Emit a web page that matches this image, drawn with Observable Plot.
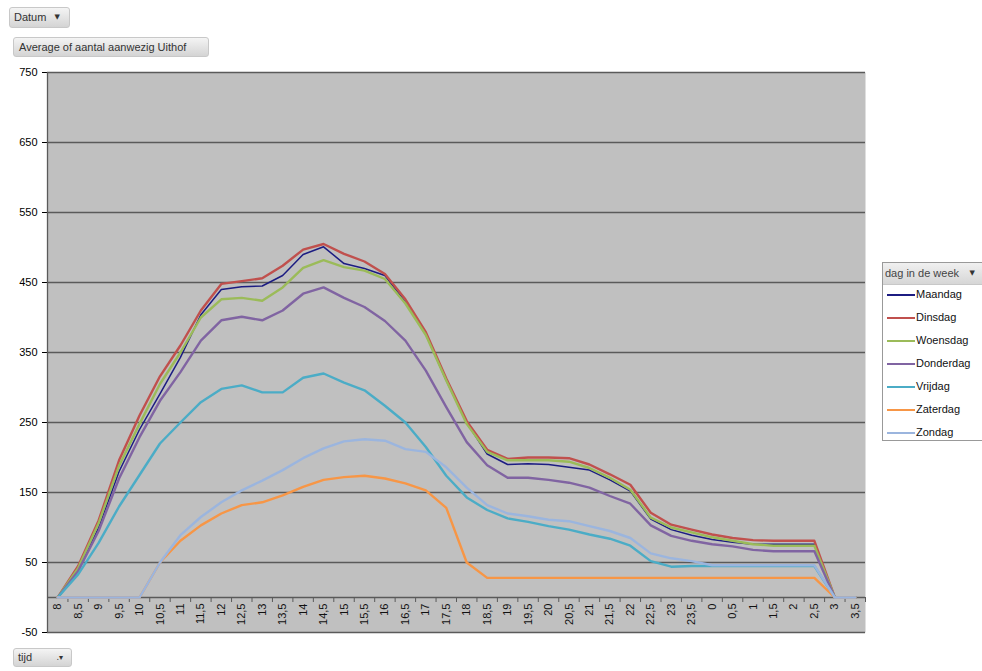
<!DOCTYPE html>
<html>
<head>
<meta charset="utf-8">
<script src="https://cdn.jsdelivr.net/npm/d3@7"></script>
<script src="https://cdn.jsdelivr.net/npm/@observablehq/plot@0.6"></script>
<style>
  body { margin: 0; background: #fff; font-family: "Liberation Sans", Arial, sans-serif; }
  #wrap { position: relative; width: 982px; height: 671px; overflow: hidden; }
  #chart { position: absolute; left: 0; top: 0; }
  .btn { position: absolute; height: 20px; border: 1px solid #c8c8c8; border-radius: 3px;
         background: linear-gradient(#f4f4f4, #d4d4d4); font-size: 11px; color: #333;
         line-height: 18px; padding: 0 4px; box-sizing: border-box; white-space: nowrap; }
  .arr { position: absolute; right: 7px; top: 0; font-size: 7px; font-family: "DejaVu Sans", sans-serif; color: #333; }
  #legend { position: absolute; left: 882px; top: 262px; width: 110px; height: 179px;
            border: 1px solid #999; background: #fff; box-sizing: border-box; }
  #legend .hd { position: relative; height: 21px; background: linear-gradient(#f0f0f0, #d6d6d6); border-bottom: 1px solid #c8c8c8;
                font-size: 11px; color: #444; line-height: 20px; padding-left: 2px; white-space: nowrap; }
  #legend .it { position: absolute; left: 4px; height: 16px; font-size: 11px; color: #111; line-height: 16px; white-space: nowrap; }
  #legend .sw { display: inline-block; width: 28px; height: 2px; vertical-align: middle; margin-right: 1px; }
</style>
</head>
<body>
<div id="wrap">
  <div id="chart"></div>
  <div class="btn" style="left:9px;top:7px;width:61px;height:21px;line-height:19px;">Datum<span class="arr" style="right:9px">▼</span></div>
  <div class="btn" style="left:13px;top:37px;width:196px;padding-left:5px;">Average of aantal aanwezig Uithof</div>
  <div class="btn" style="left:13px;top:648px;width:59px;height:19px;line-height:17px;">tijd<span class="arr" style="right:8px;font-size:8px">.▾</span></div>
  <div id="legend"><div class="hd">dag in de week<span class="arr" style="right:16px">▼</span></div></div>
</div>
<script>
// Categories (x axis labels)
const tijd = ["8","8,5","9","9,5","10","10,5","11","11,5","12","12,5","13","13,5","14","14,5","15","15,5",
  "16","16,5","17","17,5","18","18,5","19","19,5","20","20,5","21","21,5","22","22,5","23","23,5",
  "0","0,5","1","1,5","2","2,5","3","3,5"];
const yTicks = [-50, 50, 150, 250, 350, 450, 550, 650, 750];
const days = ["Maandag","Dinsdag","Woensdag","Donderdag","Vrijdag","Zaterdag","Zondag"];
const colors = ["#1c1c82","#c0504d","#9bbb59","#8064a2","#4bacc6","#f79646","#9bb5de"];

const maandag   = [0,38,100,180,240,291,343,404,440,444,445,460,490,501,477,470,460,422,376,310,250,205,190,191,190,186,182,168,152,112,97,89,83,79,76,76,76,76,0,0];
const dinsdag   = [0,45,110,196,260,316,360,410,448,452,456,474,497,505,491,480,462,426,379,313,252,211,198,200,200,199,190,176,161,121,104,97,90,85,82,81,81,81,0,0];
const woensdag  = [0,42,106,188,248,305,350,400,426,428,424,443,471,482,472,467,455,420,375,310,248,208,196,196,196,194,185,171,154,114,100,93,86,81,76,74,74,74,0,0];
const donderdag = [0,38,95,170,229,281,322,367,396,401,396,410,434,443,428,415,395,367,324,272,222,189,171,171,168,164,157,145,134,103,88,81,76,73,68,66,66,66,0,0];
const vrijdag   = [0,33,78,130,175,220,250,279,298,303,293,293,314,320,307,296,274,250,215,174,143,125,113,108,102,97,90,84,74,52,44,45,45,45,45,45,45,45,0,0];
const zaterdag  = [0,0,0,0,0,50,81,103,120,132,136,146,158,168,172,174,170,163,153,128,50,28,28,28,28,28,28,28,28,28,28,28,28,28,28,28,28,28,0,0];
const zondag    = [0,0,0,0,0,50,89,115,136,153,167,182,199,213,223,226,224,212,208,186,157,132,120,116,111,109,102,95,85,63,56,52,46,46,46,46,46,46,0,0];

const series = [maandag, dinsdag, woensdag, donderdag, vrijdag, zaterdag, zondag];
const widths = [1.5, 2.4, 2.4, 2.4, 2.4, 2.4, 2.4];

const xDomain = [-0.5, tijd.length - 0.5];
const boundaries = d3.range(tijd.length + 1).map(k => k - 0.5);
const labels = tijd.map((t, i) => ({i, t}));

const chart = Plot.plot({
  width: 982, height: 671,
  marginLeft: 47, marginRight: 117, marginTop: 72, marginBottom: 39,
  style: {background: "transparent", fontFamily: "'Liberation Sans', Arial, sans-serif", fontSize: "11px", color: "#000"},
  x: {type: "linear", domain: xDomain, axis: null},
  y: {domain: [-50, 750], ticks: yTicks, tickSize: 5, tickPadding: 5, label: null, tickFormat: d => String(d)},
  marks: [
    Plot.frame({fill: "#c0c0c0", stroke: null}),
    Plot.ruleY(yTicks, {stroke: "#5a5a5a", strokeWidth: 1.3}),
    Plot.ruleX([xDomain[0]], {stroke: "#5a5a5a", strokeWidth: 1.3}),
    Plot.ruleY([0], {stroke: "#5a5a5a", strokeWidth: 1.3}),
    Plot.ruleX(boundaries, {x: d => d, y1: 0, y2: 0, insetBottom: -5, stroke: "#5a5a5a"}),
    Plot.text(labels, {x: "i", y: 0, text: "t", rotate: -90, textAnchor: "end", dy: 6, fontSize: 11, fill: "#111"}),
    ...series.map((vals, k) => Plot.line(vals.map((v, i) => ({i, v})),
      {x: "i", y: "v", stroke: colors[k], strokeWidth: widths[k], strokeLinejoin: "round"}))
  ]
});
document.getElementById("chart").appendChild(chart);

// Legend
const legend = document.getElementById("legend");
const rowTops = [286, 309, 332, 355, 378, 401, 424];
days.forEach((d, k) => {
  const div = document.createElement("div");
  div.className = "it";
  div.style.top = (rowTops[k] - 262 - 1) + "px";
  const sw = document.createElement("span");
  sw.className = "sw";
  sw.style.background = colors[k];
  div.appendChild(sw);
  div.appendChild(document.createTextNode(d));
  legend.appendChild(div);
});
</script>
</body>
</html>
